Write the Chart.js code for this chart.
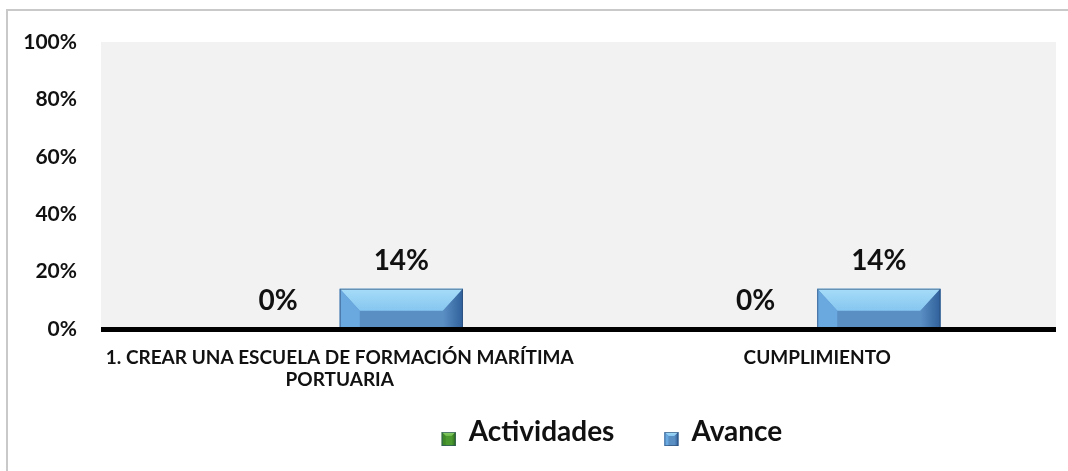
<!DOCTYPE html>
<html>
<head>
<meta charset="utf-8">
<script src="https://cdn.jsdelivr.net/npm/chart.js@4/dist/chart.umd.min.js"></script>
<style>
  html, body { margin: 0; padding: 0; background: #fff; overflow: hidden; }
  .frame { position: absolute; left: 6px; top: 9px; width: 1100px; height: 500px; border-left: 2px solid #c9c9c9; border-top: 2px solid #c9c9c9; }
  .wrap { position: absolute; left: 0; top: 0; width: 1068px; height: 471px; }
</style>
</head>
<body>
<div class="frame"></div>
<div class="wrap"><canvas id="chart"></canvas></div>
<script>
const categories = [["1. CREAR UNA ESCUELA DE FORMACIÓN MARÍTIMA", "PORTUARIA"], "CUMPLIMIENTO"];
const actividades = [0, 0];
const avance = [14, 14];
const yTicks = [0, 20, 40, 60, 80, 100];

const seriesColors = {
  Actividades: { face: "#4a9a30", light: "#8fd06c", mid: "#6ab84a", side: "#3f8a28", dark: "#2c6a1a" },
  Avance: { face: "#5a8fc4", light: "#a6dcf8", mid: "#86c6f0", side: "#6aa8e0", dark: "#30609a" }
};

function bevel(ctx, l, t, r, b, c, bw, bh) {
  ctx.fillStyle = c.face;
  ctx.fillRect(l, t, r - l, b - t);
  // top band
  const g = ctx.createLinearGradient(0, t, 0, t + bh);
  g.addColorStop(0, c.light);
  g.addColorStop(1, c.mid);
  ctx.beginPath();
  ctx.moveTo(l, t); ctx.lineTo(r, t); ctx.lineTo(r - bw, t + bh); ctx.lineTo(l + bw, t + bh); ctx.closePath();
  ctx.fillStyle = g; ctx.fill();
  // left side
  ctx.beginPath();
  ctx.moveTo(l, t); ctx.lineTo(l + bw, t + bh); ctx.lineTo(l + bw, b); ctx.lineTo(l, b); ctx.closePath();
  ctx.fillStyle = c.side; ctx.fill();
  // right side
  const gr = ctx.createLinearGradient(r - bw, 0, r, 0);
  gr.addColorStop(0, c.face);
  gr.addColorStop(1, c.dark);
  ctx.beginPath();
  ctx.moveTo(r, t); ctx.lineTo(r - bw, t + bh); ctx.lineTo(r - bw, b); ctx.lineTo(r, b); ctx.closePath();
  ctx.fillStyle = gr; ctx.fill();
  ctx.strokeStyle = "rgba(40,70,110,0.6)";
  ctx.lineWidth = 1;
  ctx.strokeRect(l + 0.5, t + 0.5, r - l - 1, b - t - 1);
}

const bevelBars = {
  id: "bevelBars",
  afterDatasetsDraw(chart) {
    const ctx = chart.ctx;
    ctx.save();
    chart.data.datasets.forEach((ds, i) => {
      const c = seriesColors[ds.label];
      chart.getDatasetMeta(i).data.forEach(bar => {
        const h = bar.base - bar.y;
        if (h < 1) return;
        const l = bar.x - bar.width / 2, r = bar.x + bar.width / 2;
        bevel(ctx, l, bar.y, r, bar.base, c, 20, Math.min(22, h * 0.55));
      });
    });
    // zero line
    const y0 = chart.scales.y.getPixelForValue(0);
    ctx.fillStyle = "#000";
    ctx.fillRect(chart.chartArea.left, y0 - 2, chart.chartArea.right - chart.chartArea.left, 5);
    // value labels
    ctx.font = "bold 28px Lato";
    ctx.textAlign = "center";
    ctx.textBaseline = "middle";
    ctx.fillStyle = "#111";
    chart.data.datasets.forEach((ds, i) => {
      chart.getDatasetMeta(i).data.forEach((bar, j) => {
        ctx.fillText(ds.data[j] + "%", bar.x, bar.y - 28);
      });
    });
    ctx.restore();
  }
};

const bgPlugin = {
  id: "plotBg",
  beforeDraw(chart) {
    const a = chart.chartArea;
    chart.ctx.save();
    chart.ctx.fillStyle = "#f2f2f2";
    chart.ctx.fillRect(a.left, a.top, a.right - a.left, a.bottom - a.top);
    chart.ctx.restore();
  }
};

const legendPlugin = {
  id: "bevelLegend",
  afterDraw(chart) {
    const ctx = chart.ctx;
    ctx.save();
    ctx.font = "bold 28px Lato";
    ctx.textBaseline = "middle";
    ctx.textAlign = "left";
    const y = 432;
    const items = chart.data.datasets.map(ds => ({ label: ds.label, w: ctx.measureText(ds.label).width }));
    const box = 14, gap = 13, spacing = 50;
    let total = 0;
    items.forEach((it, k) => { total += box + gap + it.w + (k ? spacing : 0); });
    let x = 612 - total / 2;
    items.forEach((it, k) => {
      if (k) x += spacing;
      bevel(ctx, x, y, x + box, y + box, seriesColors[it.label], 4, 4);
      x += box + gap;
      ctx.fillStyle = "#111";
      ctx.fillText(it.label, x, y);
      x += it.w;
    });
    ctx.restore();
  }
};

new Chart(document.getElementById("chart"), {
  type: "bar",
  data: {
    labels: categories,
    datasets: [
      { label: "Actividades", data: actividades, backgroundColor: seriesColors.Actividades.face },
      { label: "Avance", data: avance, backgroundColor: seriesColors.Avance.face }
    ]
  },
  options: {
    responsive: true,
    maintainAspectRatio: false,
    animation: false,
    layout: { padding: { left: 0, top: 42, right: 12, bottom: 62 } },
    datasets: { bar: { categoryPercentage: 0.516, barPercentage: 1 } },
    scales: {
      x: {
        grid: { display: false, drawTicks: false },
        border: { display: false },
        ticks: { color: "#111", font: { family: "Lato", weight: "bold", size: 19, lineHeight: 1.2 }, padding: 17, maxRotation: 0, autoSkip: false },
        afterFit(s) { s.height = 80; }
      },
      y: {
        min: 0, max: 100,
        afterBuildTicks(s) { s.ticks = yTicks.map(v => ({ value: v })); },
        grid: { display: false, drawTicks: false },
        border: { display: false },
        ticks: { color: "#111", font: { family: "Lato", weight: "bold", size: 21 }, padding: 24, callback: v => v + "%" },
        afterFit(s) { s.width = 101; }
      }
    },
    plugins: { legend: { display: false }, tooltip: { enabled: false } }
  },
  plugins: [bgPlugin, bevelBars, legendPlugin]
});
</script>
</body>
</html>
